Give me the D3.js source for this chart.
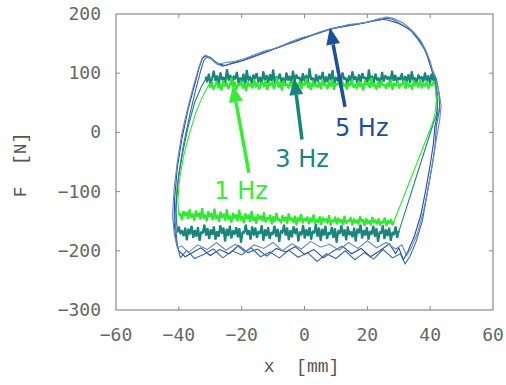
<!DOCTYPE html>
<html>
<head>
<meta charset="utf-8">
<script src="https://cdn.jsdelivr.net/npm/d3@7"></script>
<style>
  body { margin: 0; background: #fff; }
  .tick-label { font-family: "DejaVu Sans Mono", monospace; font-size: 18px; fill: #666; }
  .axis-title { font-family: "Liberation Mono", monospace; font-size: 18px; fill: #555; white-space: pre; }
  .note { font-family: "DejaVu Sans", sans-serif; font-size: 24px; }
</style>
</head>
<body>
<div id="chart"></div>
<script>
// axis ticks
const xTicks = [-60, -40, -20, 0, 20, 40, 60];
const yTicks = [-300, -200, -100, 0, 100, 200];

// 1 Hz: noisy plateaus (F in N) and the sides of the loop ([x mm, F N])
const hz1TopRange = [-30.5, 41.5];
const hz1Top = [81,76,84,73,79,86,75,82,71,88,78,83,74,80,92,77,85,72,81,79,87,74,83,70,86,78,82,75,90,76,84,73,80,85,77,88,72,83,79,86,74,81,93,76,84,71,87,79,82,75,85,78,89,73,81,77,86,74,83,80,91,75,84,72,87,78,82,76,85,73,88,79,81,74,86,77,90,72,83,80,85,75,87,78,82,73,84,79,89,76,81,74,86,77,83,71,88,80,84,75,92,78,82,73,85,76,87,79,81,74,84,77,89,72,83,78,86,75,82,80,88,74,85,77,81,73,87,79,84,76,90,75,83,78,86,74,82,79,85,81];
const hz1BotRange = [28.5, -40];
const hz1Bot = [-151,-156,-147,-154,-149,-158,-144,-153,-150,-157,-146,-155,-148,-152,-143,-156,-149,-154,-145,-158,-147,-151,-142,-155,-148,-153,-146,-157,-144,-150,-149,-154,-141,-156,-147,-152,-145,-155,-143,-151,-148,-157,-140,-153,-146,-150,-144,-156,-142,-152,-147,-154,-139,-151,-145,-155,-143,-149,-146,-153,-138,-150,-144,-156,-141,-152,-145,-148,-137,-154,-143,-150,-140,-153,-146,-149,-136,-151,-142,-155,-139,-148,-144,-152,-135,-150,-141,-147,-138,-154,-143,-149,-133,-151,-140,-146,-137,-153,-142,-148,-131,-150,-139,-145,-136,-152,-141,-147,-130,-149,-138,-144,-134,-151,-140,-146,-129,-148,-137,-143,-133,-150,-139,-145,-128,-147,-136,-142,-132,-149,-138,-144,-130,-146,-135,-141,-133,-148,-137,-140];
const hz1Left = [[-40,-140],[-40.3,-115],[-39.8,-80],[-38.5,-40],[-36.5,0],[-34.5,35],[-32.5,60],[-30.5,80]];
const hz1Right = [[41.5,80],[42,55],[41.5,30],[40.5,12],[28.5,-150]];

// 3 Hz
const hz3TopRange = [-31.5, 41.5];
const hz3Top = [94,85,99,82,91,104,87,96,80,101,89,93,84,107,88,97,81,95,90,102,83,92,86,99,79,105,88,94,83,97,91,100,85,93,81,103,89,96,84,98,87,106,82,94,90,99,85,92,80,101,88,95,83,104,86,97,91,93,82,100,87,96,84,108,89,92,81,98,86,95,90,102,83,94,85,99,88,105,80,93,87,97,84,101,90,92,82,96,86,103,89,94,83,98,85,100,91,93,81,106,87,95,84,99,88,92,82,102,86,96,90,94,83,104,87,97,85,93,89,100,81,95,86,98,84,103,88,92,83,97,90,94,85,101,87,96,82,99,88,93];
const hz3BotRange = [30, -40.5];
const hz3Bot = [-166,-178,-159,-173,-169,-183,-161,-175,-164,-180,-157,-171,-168,-185,-162,-176,-158,-172,-167,-181,-160,-174,-165,-179,-156,-170,-163,-184,-161,-177,-168,-173,-159,-182,-164,-175,-157,-171,-166,-186,-162,-178,-160,-172,-169,-180,-158,-174,-163,-183,-161,-176,-155,-170,-167,-181,-160,-175,-164,-179,-157,-173,-168,-184,-162,-171,-159,-177,-165,-182,-161,-174,-156,-170,-166,-185,-163,-176,-158,-172,-169,-180,-160,-175,-164,-183,-157,-171,-167,-178,-161,-174,-159,-181,-165,-173,-156,-170,-168,-186,-162,-177,-160,-172,-166,-179,-158,-175,-163,-184,-161,-171,-157,-176,-167,-181,-159,-173,-164,-180,-162,-174,-156,-170,-168,-183,-160,-176,-165,-178,-158,-172,-163,-182,-161,-175,-166,-171,-159,-169];
const hz3Left = [[-40.5,-165],[-41,-130],[-40.5,-90],[-39,-40],[-37,10],[-35,50],[-33,75],[-31.5,90]];
const hz3Right = [[41.5,90],[42.5,60],[42,30],[41,15],[30,-168]];

// 5 Hz: three recorded cycles
const hz5A = [[-40,-200],[-41,-180],[-41.5,-150],[-41.3,-110],[-40.5,-60],[-39,-10],[-37,40],[-35,80],[-33.5,110],[-32.5,125],[-31.5,129],[-30,127],[-28.5,120],[-27,115],[-25,113],[-23,117],[-20,121],[-17,127],[-14,133],[-11,139],[-8,144],[-5,150],[-2,156],[1,162],[4,167],[7,173],[10,177],[13,180],[16,182],[19,185],[22,189],[25,191],[27,189],[30,184],[33,176],[35,166],[37,152],[38.5,138],[39.5,122],[40.5,105],[41.5,88],[42,60],[42.5,35],[41.5,10],[41,-20],[40,-55],[38.5,-100],[37,-140],[35,-175],[33,-200],[31.5,-215],[30,-195],[29,-205],[27,-188],[24,-200],[21,-210],[18,-196],[15,-205],[12,-192],[9,-201],[6,-212],[3,-198],[0,-206],[-3,-193],[-6,-202],[-9,-196],[-12,-209],[-15,-197],[-18,-203],[-21,-191],[-24,-205],[-27,-198],[-30,-208],[-33,-195],[-36,-204],[-38,-210],[-40,-200]];
const hz5B = [[-39.5,-212],[-40.5,-190],[-41,-160],[-40.8,-120],[-40,-70],[-38.5,-20],[-36.5,30],[-34.5,75],[-33,105],[-32,122],[-31,127],[-29.5,124],[-28,116],[-26,112],[-24,115],[-21,119],[-18,124],[-15,130],[-12,136],[-9,142],[-6,148],[-3,153],[0,159],[3,165],[6,170],[9,175],[12,178],[15,181],[18,184],[21,187],[24,190],[26,193],[28,191],[31,182],[34,171],[36,158],[38,142],[39.5,125],[40.5,108],[42,90],[43,62],[43,38],[42,12],[41.5,-25],[40.5,-60],[39,-105],[37.5,-150],[35.5,-185],[33.5,-210],[32,-222],[30.5,-205],[28,-212],[25,-198],[22,-214],[19,-203],[16,-215],[13,-200],[10,-213],[7,-205],[4,-218],[1,-203],[-2,-211],[-5,-199],[-8,-212],[-11,-202],[-14,-210],[-17,-195],[-20,-207],[-23,-200],[-26,-212],[-29,-197],[-32,-206],[-35,-213],[-37.5,-199],[-39.5,-212]];
const hz5C = [[-40.5,-195],[-41.5,-170],[-42,-140],[-41.5,-95],[-40.5,-50],[-39,0],[-37,45],[-35,85],[-33.5,112],[-32.5,127],[-31.5,131],[-30,126],[-28.5,118],[-27,116],[-25,118],[-22,120],[-19,125],[-16,131],[-13,137],[-10,141],[-7,147],[-4,154],[-1,160],[2,164],[5,170],[8,174],[11,178],[14,182],[17,184],[20,186],[23,191],[26,195],[28,193],[31,186],[33,178],[35,168],[37,155],[38.5,140],[40,120],[41,100],[42.5,75],[43.5,45],[43,20],[42,-10],[41,-45],[39.5,-90],[38,-130],[36,-170],[34,-195],[32.5,-208],[31,-190],[29,-197],[26,-186],[23,-195],[20,-183],[17,-196],[14,-186],[11,-199],[8,-189],[5,-194],[2,-184],[-1,-197],[-4,-188],[-7,-200],[-10,-186],[-13,-196],[-16,-190],[-19,-202],[-22,-189],[-25,-199],[-28,-186],[-31,-198],[-34,-190],[-37,-203],[-39,-192],[-40.5,-195]];

// annotations: label, colour, arrow tail, arrow tip, text anchor (data units)
const notes = [
  { label: '5 Hz', color: '#1d4f9f', tail: [12.9, 43], tip: [8.1, 177], text: [9.7, 9] },
  { label: '3 Hz', color: '#17857b', tail: [-0.8, -12], tip: [-3.3, 92], text: [-9.3, -43] },
  { label: '1 Hz', color: '#33ee33', tail: [-17.7, -68], tip: [-22.8, 80], text: [-28.7, -97] }
];

const W = 506, H = 385;
const margin = { top: 14, right: 13, bottom: 75, left: 116 };
const width = W - margin.left - margin.right;
const height = H - margin.top - margin.bottom;

const x = d3.scaleLinear().domain([-60, 60]).range([0, width]);
const y = d3.scaleLinear().domain([-300, 200]).range([height, 0]);

const svg = d3.select('#chart').append('svg')
    .attr('width', W).attr('height', H)
  .append('g')
    .attr('transform', 'translate(' + margin.left + ',' + margin.top + ')');

const line = d3.line().x((d) => x(d[0])).y((d) => y(d[1]));

// plateau samples -> [x, F] pairs, evenly spread over the stroke range
function plateau(range, vals) {
  let sx = d3.scaleLinear().domain([0, vals.length - 1]).range(range);
  return vals.map((v, i) => [sx(i), v]);
}

function drawLoop(topRange, top, botRange, bot, left, right, color) {
  let t = plateau(topRange, top), b = plateau(botRange, bot);
  // thin outline of the whole cycle
  svg.append('path').datum(left.concat(t, right, b))
      .attr('d', line).attr('fill', 'none')
      .attr('stroke', color).attr('stroke-width', 1.1);
  // the plateaus are many overlapping samples, drawn heavier
  [t, b].forEach((seg) => {
    svg.append('path').datum(seg)
        .attr('d', line).attr('fill', 'none')
        .attr('stroke', color).attr('stroke-width', 2.2)
        .attr('stroke-linejoin', 'bevel');
  });
}

// frame
svg.append('rect')
    .attr('width', width).attr('height', height)
    .attr('fill', 'none').attr('stroke', '#8a8a8a').attr('stroke-width', 1.2);

// ticks, inward on all sides
xTicks.slice(1, -1).forEach((t) => {
  svg.append('line').attr('x1', x(t)).attr('x2', x(t)).attr('y1', height).attr('y2', height - 4).attr('stroke', '#8a8a8a');
  svg.append('line').attr('x1', x(t)).attr('x2', x(t)).attr('y1', 0).attr('y2', 4).attr('stroke', '#8a8a8a');
});
yTicks.slice(1, -1).forEach((t) => {
  svg.append('line').attr('x1', 0).attr('x2', 4).attr('y1', y(t)).attr('y2', y(t)).attr('stroke', '#8a8a8a');
  svg.append('line').attr('x1', width).attr('x2', width - 4).attr('y1', y(t)).attr('y2', y(t)).attr('stroke', '#8a8a8a');
});

svg.selectAll('.xl').data(xTicks).enter().append('text')
    .attr('class', 'tick-label')
    .attr('x', (d) => x(d)).attr('y', height + 31)
    .attr('text-anchor', 'middle')
    .text((d) => d < 0 ? '\u2212' + (-d) : d);

svg.selectAll('.yl').data(yTicks).enter().append('text')
    .attr('class', 'tick-label')
    .attr('x', -15).attr('y', (d) => y(d) + 6)
    .attr('text-anchor', 'end')
    .text((d) => d < 0 ? '\u2212' + (-d) : d);

svg.append('text').attr('class', 'axis-title')
    .attr('x', width / 2 - 3).attr('y', height + 62)
    .attr('text-anchor', 'middle')
    .text('x  [mm]');

svg.append('text').attr('class', 'axis-title')
    .attr('transform', 'translate(' + (-90) + ',' + (y(-55)) + ') rotate(-90)')
    .attr('text-anchor', 'middle')
    .text('F  [N]');

// 5 Hz cycles
[[hz5A, '#1f4f9e'], [hz5B, '#3b69b0'], [hz5C, '#6489c2']].forEach((c) => {
  svg.append('path').datum(c[0])
      .attr('d', line).attr('fill', 'none')
      .attr('stroke', c[1]).attr('stroke-width', 1.1);
});

drawLoop(hz3TopRange, hz3Top, hz3BotRange, hz3Bot, hz3Left, hz3Right, '#1a857c');
drawLoop(hz1TopRange, hz1Top, hz1BotRange, hz1Bot, hz1Left, hz1Right, '#2fea2f');

// arrows + labels
notes.forEach((n) => {
  let x0 = x(n.tail[0]), y0 = y(n.tail[1]);
  let x1 = x(n.tip[0]), y1 = y(n.tip[1]);
  let ang = Math.atan2(y1 - y0, x1 - x0);
  let hl = 17, hw = 7;
  let bx = x1 - hl * Math.cos(ang), by = y1 - hl * Math.sin(ang);
  svg.append('line')
      .attr('x1', x0).attr('y1', y0).attr('x2', bx).attr('y2', by)
      .attr('stroke', n.color).attr('stroke-width', 3.5);
  let p = [[x1, y1],
           [bx + hw * Math.sin(ang), by - hw * Math.cos(ang)],
           [bx - hw * Math.sin(ang), by + hw * Math.cos(ang)]];
  svg.append('path').attr('d', 'M' + p.join('L') + 'Z').attr('fill', n.color);
  svg.append('text').attr('class', 'note')
      .attr('x', x(n.text[0])).attr('y', y(n.text[1]) + 9)
      .attr('fill', n.color)
      .text(n.label);
});
</script>
</body>
</html>
